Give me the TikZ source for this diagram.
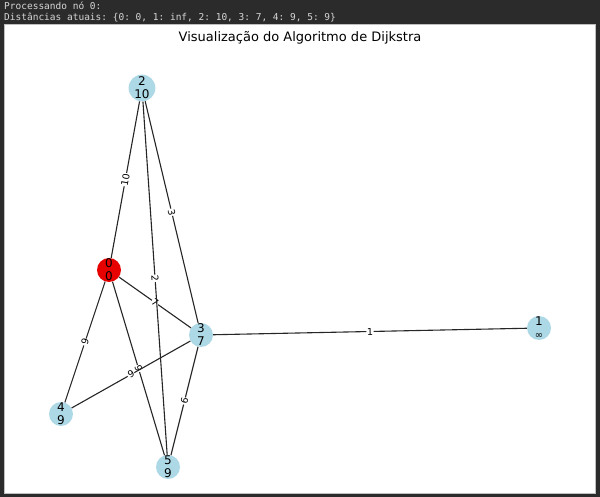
\documentclass[tikz,border=0pt]{standalone}
\usepackage{fontspec}
\setmainfont{DejaVu Sans}
\setmonofont{DejaVu Sans Mono}
\usepackage{tikz}
\usetikzlibrary{positioning}
\definecolor{azzurro}{HTML}{ADD8E6}
\definecolor{rosso}{RGB}{230,0,0}
\definecolor{fondo}{HTML}{2B2B2B}
\definecolor{console}{HTML}{D6D6D6}

\begin{document}
\begin{tikzpicture}[x=1pt, y=-1pt,
	vertice/.style={circle, fill=azzurro, minimum size=24pt, inner sep=0pt,
		align=center, font=\fontsize{12}{13}\selectfont},
	corrente/.style={vertice, fill=rosso},
	arco/.style={draw=black!85, line width=1.1pt},
	peso/.style={fill=white, inner sep=0.6pt, sloped, font=\fontsize{9.5}{10}\selectfont},
	terminale/.style={anchor=west, text=console, inner sep=0pt, font=\ttfamily\fontsize{9.5}{10}\selectfont}]
	\useasboundingbox (0,0) rectangle (600,497);
	% sfondo e finestra del grafico
	\fill[fondo] (0,0) rectangle (600,497);
	\filldraw[fill=white, draw=black!25, line width=0.8pt] (4,24) rectangle (595,493);
	\node[terminale] (riga1) at (4,6) {Processando nó 0:};
	\node[terminale] (riga2) at (4,17) {Distâncias atuais: \{0: 0, 1: inf, 2: 10, 3: 7, 4: 9, 5: 9\}};
	\node[font=\fontsize{13}{14}\selectfont] (titolo) at (300,38) {Visualização do Algoritmo de Dijkstra};
	% vertici
	\node[corrente] (n0) at (109,270) {0\\0};
	\node[vertice] (n1) at (539,328) {1\\{\fontsize{10}{10}\selectfont ∞}};
	\node[vertice] (n2) at (142,88) {2\\10};
	\node[vertice] (n3) at (201,335) {3\\7};
	\node[vertice] (n4) at (61,414) {4\\9};
	\node[vertice] (n5) at (168,467) {5\\9};
	% archi con i pesi
	\path[arco] (n0) -- node[peso] {10} (n2);
	\path[arco] (n0) -- node[peso] {7} (n3);
	\path[arco] (n0) -- node[peso] {9} (n4);
	\path[arco] (n0) -- node[peso] {9} (n5);
	\path[arco] (n2) -- node[peso] {3} (n3);
	\path[arco] (n2) -- node[peso] {2} (n5);
	\path[arco] (n3) -- node[peso] {1} (n1);
	\path[arco] (n3) -- node[peso] {9} (n4);
	\path[arco] (n3) -- node[peso] {6} (n5);
\end{tikzpicture}
\end{document}
